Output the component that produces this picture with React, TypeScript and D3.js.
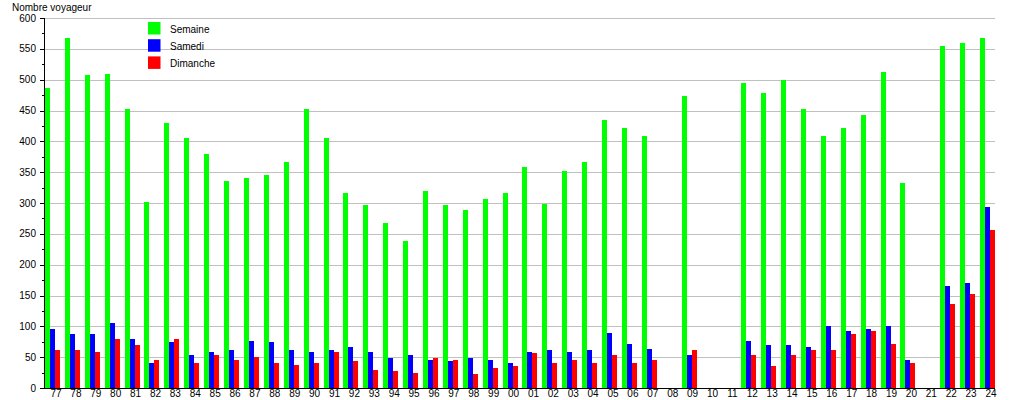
import React from "react";
import * as d3 from "d3";

const years: string[] = [
  "77","78","79","80","81","82","83","84","85","86","87","88","89","90","91","92",
  "93","94","95","96","97","98","99","00","01","02","03","04","05","06","07","08",
  "09","10","11","12","13","14","15","16","17","18","19","20","21","22","23","24",
];

const semaine: (number | null)[] = [
  487, 568, 508, 510, 453, 302, 430, 406, 379, 336, 340, 346, 366, 453, 405, 317,
  296, 268, 238, 320, 296, 289, 306, 317, 358, 298, 352, 366, 434, 422, 409, null,
  474, null, null, 494, 479, 500, 453, 408, 421, 442, 513, 332, null, 554, 560, 568,
];

const samedi: (number | null)[] = [
  95, 87, 88, 105, 80, 41, 74, 54, 59, 61, 77, 75, 62, 58, 61, 67,
  59, 48, 54, 45, 43, 49, 46, 40, 58, 62, 59, 62, 90, 72, 64, null,
  54, null, null, 77, 70, 69, 67, 100, 93, 96, 101, 45, null, 166, 171, 293,
];

const dimanche: (number | null)[] = [
  62, 61, 59, 80, 69, 45, 80, 41, 54, 46, 51, 41, 38, 40, 58, 43,
  30, 28, 25, 49, 45, 23, 33, 35, 56, 41, 46, 41, 53, 40, 46, null,
  61, null, null, 54, 36, 54, 61, 62, 87, 93, 72, 40, null, 137, 153, 257,
];

const seriesNames = ["Semaine", "Samedi", "Dimanche"];
const seriesColors = ["#00ff00", "#0000ff", "#ff0000"];
const yTicks: number[] = [0, 50, 100, 150, 200, 250, 300, 350, 400, 450, 500, 550, 600];
const yMinorTicks: number[] = d3.range(25, 600, 50);
const yTitle = "Nombre voyageur";

const FONT = "'Liberation Sans', Arial, sans-serif";

export default function App() {
  const left = 45;
  const right = 995;
  const top = 18;
  const bottom = 388;
  const barW = 5;
  const groupW = barW * 3;

  const x = d3.scalePoint<string>().domain(years).range([left, right - groupW]);
  const y = d3.scaleLinear().domain([0, 600]).range([bottom, top]);
  const allSeries = [semaine, samedi, dimanche];

  return (
    <svg
      width={1015}
      height={400}
      style={{ position: "absolute", left: 0, top: 0, background: "#fff" }}
      fontFamily={FONT}
    >
      <rect x={0} y={0} width={1015} height={400} fill="#fff" />
      {/* grid */}
      {yTicks.filter((t) => t > 0).map((t) => (
        <line key={"g" + t} x1={left} x2={right} y1={Math.round(y(t)) + 0.5} y2={Math.round(y(t)) + 0.5} stroke="#c0c0c0" strokeWidth={1} />
      ))}
      {/* bars */}
      {allSeries.map((s, si) =>
        s.map((v, i) =>
          v == null ? null : (
            <rect
              key={si + "-" + i}
              x={(x(years[i]) as number) + si * barW}
              y={y(v)}
              width={barW}
              height={bottom - y(v)}
              fill={seriesColors[si]}
              shapeRendering="crispEdges"
            />
          )
        )
      )}
      {/* axes */}
      <line x1={left - 0.5} x2={left - 0.5} y1={top} y2={bottom} stroke="#000" strokeWidth={1} />
      <line x1={left - 1} x2={right} y1={bottom + 0.5} y2={bottom + 0.5} stroke="#000" strokeWidth={1} />
      {yTicks.map((t) => (
        <g key={"t" + t}>
          <line x1={left - 5} x2={left} y1={Math.round(y(t)) + 0.5} y2={Math.round(y(t)) + 0.5} stroke="#000" />
          <text x={left - 9} y={y(t) + 3.5} textAnchor="end" fontSize={10} fill="#000">
            {t}
          </text>
        </g>
      ))}
      {yMinorTicks.map((t) => (
        <line key={"m" + t} x1={left - 3} x2={left} y1={Math.round(y(t)) + 0.5} y2={Math.round(y(t)) + 0.5} stroke="#000" />
      ))}
      {years.map((yr) => (
        <text key={"x" + yr} x={(x(yr) as number) + 11} y={397} textAnchor="middle" fontSize={10} fill="#000">
          {yr}
        </text>
      ))}
      <text x={12} y={11} fontSize={10} fill="#000">
        {yTitle}
      </text>
      {/* legend */}
      {seriesNames.map((n, i) => (
        <g key={"l" + n}>
          <rect x={148} y={22 + i * 17.2} width={12.5} height={12.5} fill={seriesColors[i]} />
          <text x={170} y={33 + i * 17.2} fontSize={10} fill="#000">
            {n}
          </text>
        </g>
      ))}
    </svg>
  );
}
